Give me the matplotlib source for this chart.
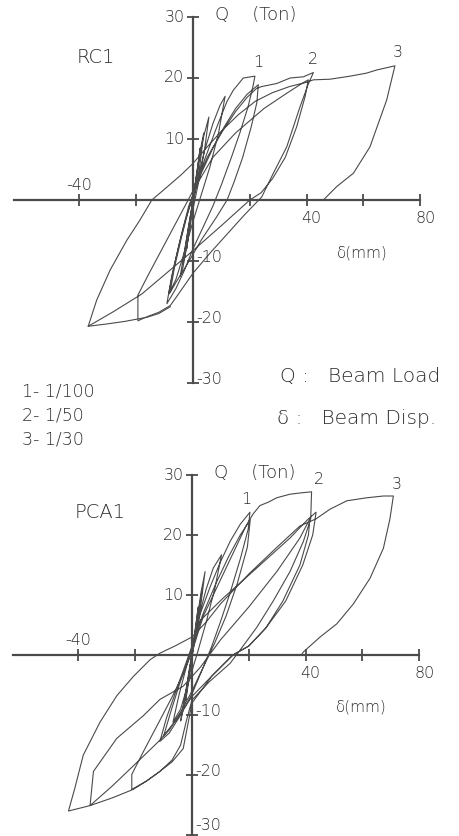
import numpy as np
import matplotlib.pyplot as plt

plt.rcParams['font.family'] = ['DejaVu Sans']

# --- RC1: beam displacement (mm) vs beam load (ton) ---
rc1_delta = [0, 1.5, 2.5, 1.5, 0, -1.2, -2.2, -1, 0,
             1.8, 3.5, 5.6, 4, 2, 0, -2, -3.5, -4.5, -2.5, -0.5,
             1.2, 2.5, 3.8, 2.5, 0.8, -1, -2.8, -3.6, -1.8, 0,
             1.5, 4, 7, 9.5, 11.3, 9, 6, 3, 0, -3, -6, -8.6, -6.5, -4, -1.5,
             1, 4, 8, 11.9, 14.2, 17.7, 21.8, 21.1, 19.4, 16.5, 13.6, 10, 7, 3, 0, -3, -6, -9.2,
             -7.5, -5, -2.5, 0, 3, 7, 11, 15, 19, 23,
             22.5, 20.5, 17.5, 14.5, 12, 8, 3, -2, -6, -8.1,
             -6.5, -4, -1.5, 1, 5, 10, 15, 19, 22.4,
             24.2, 29.5, 34.2, 38.9, 42.4, 40.6, 37.7, 33, 28.3, 24.2, 18, 12, 6, 0, -3, -6, -8,
             -12, -16, -19.4, -19.4,
             -16, -12, -8, -4, 0, 7, 15, 25, 33, 38.7, 40.6,
             39.5, 36.5, 32.5, 28, 24, 20, 10, -1, -8.1, -18, -28, -36.9,
             -33.9, -29.2, -23.3, -18.7, -14.5, -9.2, -4, 0, 5, 10, 16, 22, 28, 34, 40, 42.4,
             48.2, 55.3, 61.1, 64.6, 71.1,
             68.2, 62.3, 56.5, 50.6, 45.9]
rc1_load = [0, 5, 8.5, 4.5, 0.5, -4.5, -8, -3.5, 0,
            5.5, 10, 13.6, 8, 3, -1.5, -7, -11, -12.5, -7, -1.5,
            4, 8, 11, 6, 1.5, -3.5, -9, -10.5, -5, 0,
            3, 8, 12.5, 15.5, 17, 11, 5.5, 1, -3.5, -8.5, -13, -15.5, -10.5, -5.5, -1,
            2, 6.5, 11.5, 16.1, 18, 20, 20.3, 18.6, 15.3, 11, 7.1, 2.5, -1, -5, -8, -11.5, -14.5, -17,
            -12.5, -7.5, -3, 0.5, 4.5, 8.5, 12, 15, 17.3, 18.9,
            16, 12, 7, 3, 0, -3, -6.5, -10.5, -13.5, -15.2,
            -11, -6, -1.5, 2.5, 7, 11, 14.5, 16.8, 18.3,
            18.6, 19.1, 20, 20.2, 20.9, 19, 15.3, 8.7, 4.4, 0.5, -2.5, -5.6, -8.7, -12, -14, -16, -17.3,
            -18.4, -19.1, -19.8, -15.6,
            -12.5, -9, -5.5, -2, 1.5, 7, 11, 15, 17.5, 19.2, 19.7,
            17, 12, 7, 3.5, 1.2, 0, -4.2, -8.7, -11.5, -15.4, -18.3, -20.7,
            -16.4, -11.5, -6.6, -3.3, 0, 2.1, 4.2, 6, 8.7, 11.3, 14, 16.2, 17.6, 18.6, 19.3, 19.7,
            19.8, 20.3, 20.8, 21.3, 22.0,
            16.4, 8.7, 4.4, 2.2, 0]
# lower edge of the RC1 negative lobe
rc1_edge_delta = [-8, -12, -16, -19.4, -24, -30, -36.9]
rc1_edge_load = [-17.5, -18.6, -19.2, -19.5, -19.9, -20.3, -20.7]

# --- PCA1 ---
pca1_delta = [0, 1.2, 2.2, 1, 0, -1.2, -2.2, -1, 0,
              1.8, 3.2, 4.6, 3, 1, -1, -2.8, -4, -2, 0,
              1.2, 2.6, 3.6, 2.2, 0.5, -1.2, -2.6, -3.4, -1.5, 0,
              2.5, 5, 7.5, 10.4, 8, 5, 2, -1.5, -4, -6.7, -4.5, -2, 0.5,
              3, 6.5, 10, 13.5, 17, 20.4, 19.8, 17, 13.5, 10, 7, 4, 0, -4, -8, -11.3,
              -9, -6, -3, 0, 4, 8.5, 13, 17, 20.5, 19.5, 16, 12, 8, 4, 0, -4, -8, -10,
              -7.5, -4.5, -1.5, 1,
              4, 8, 12, 16, 19, 21.5, 23.9, 27, 29.8, 34.5, 38, 42.1,
              41.8, 39.2, 34.5, 28.6, 22.8, 16.9, 13.4, 6, 0, -2, -4, -7, -11.3, -16, -21.2,
              -21.2, -17, -12, -7, -3, 0, 2.8, 11, 22.8, 34.5, 41, 43.7,
              42.5, 39, 33, 26, 20, 14.4, 7, 0,
              -5, -11.3, -20.7, -28, -35.9, -34.7, -26.5, -17.1, -11.3, -3.1,
              3, 10, 20, 30, 38, 41.5,
              41, 38, 32, 26, 20, 14.4, 7, 0,
              -3.1, -7, -11.3, -16, -20.7, -28, -35.9, -43.5,
              -41.2, -38.3, -32.4, -26.5, -20.7, -14.8, -11.3, -6, 0, 5, 10, 20, 30, 38, 43.7,
              48.6, 54.5, 61.5, 67.4, 70.9,
              69.7, 67.4, 62.7, 56.8, 51, 45.1, 39.2, 38.5]
pca1_load = [0, 4.5, 8, 3.5, 0, -4.5, -7.5, -3, 0,
             6, 10.5, 13.9, 8, 2.5, -3.5, -8.5, -11, -5.5, 0.5,
             4, 8, 11, 6, 1.5, -3.5, -7.5, -9.5, -4.5, 0,
             6.5, 11, 14.5, 16.7, 11, 5.5, 0.5, -5, -9, -11.2, -6.5, -2, 2,
             7, 11.5, 15.5, 19, 21.8, 23.8, 21, 16, 10.5, 5.5, 1.5, -2, -6.5, -10, -13, -14.4,
             -10.5, -6.5, -2.5, 1.5, 7, 12, 16.5, 20, 22.5, 18, 12, 6.5, 2, -2, -6, -9.5, -12.5, -13.5,
             -9.5, -5, -1, 2,
             6.5, 10.5, 14.5, 18.5, 21.5, 23.5, 24.9, 25.5, 26.2, 26.8, 27, 27.2,
             22.7, 18.9, 13.9, 9, 4.6, 0.8, -1.4, -4.5, -7.5, -11, -15, -17.5, -19.4, -21, -22.4,
             -19.9, -16, -11.5, -7, -3, 0.5, 5.7, 9.5, 14.5, 19.5, 22.7, 23.8,
             20, 15, 9, 4.5, 1.5, 0, -3.5, -6.9,
             -10.5, -14.2, -18.5, -21.8, -25.1, -19.4, -13.9, -10.1, -7.4, -5.2,
             -2, 2.5, 8, 14, 19.5, 22.7,
             20, 15, 9, 4.5, 1.5, 0, -3.5, -8,
             -15.6, -17.8, -19.4, -21, -22.4, -23.8, -25.1, -26,
             -22.1, -16.7, -11.2, -6.8, -3.6, -0.8, 0.3, 1.5, 3, 5.5, 8.5, 13.5, 18, 21.5, 22.7,
             24.3, 25.7, 26.2, 26.5, 26.5,
             22.7, 17.8, 12.8, 8.5, 5.2, 3, 0.5, 0]

x_ticks = [-40, -20, 0, 20, 40, 60, 80]
y_ticks = [-30, -20, -10, 10, 20, 30]
y_labels_left = [30, 20, 10]
y_labels_right = [-10, -20, -30]
drift_labels = ['1- 1/100', '2- 1/50', '3- 1/30']

LINE = '#4a4a4a'
INK = '#2e2e2e'
W, H = 460, 836


def make_axes(fig, ox, oy, sx, sy, xlim, ylim):
    """axes placed so that the data origin lands on pixel (ox, oy)"""
    left = ox + xlim[0] * sx
    right = ox + xlim[1] * sx
    top = oy - ylim[1] * sy
    bottom = oy - ylim[0] * sy
    ax = fig.add_axes([left / W, 1 - bottom / H, (right - left) / W, (bottom - top) / H])
    ax.set_xlim(*xlim)
    ax.set_ylim(*ylim)
    return ax


def draw_panel(ax, segments, name, name_pos, peak_pos, neg30):
    for d, q in segments:
        ax.plot(d, q, color=LINE, lw=0.8)
    ax.patch.set_alpha(0)
    for s in ['top', 'right']:
        ax.spines[s].set_visible(False)
    ax.spines['left'].set_position('zero')
    ax.spines['bottom'].set_position('zero')
    ax.spines['left'].set_bounds(-30, 30)
    ax.spines['bottom'].set_bounds(-63, 80)
    for s in ['left', 'bottom']:
        ax.spines[s].set_color(LINE)
        ax.spines[s].set_linewidth(1.6)
    ax.set_xticks(x_ticks)
    ax.set_yticks(y_ticks)
    ax.tick_params(direction='inout', length=9, width=1.3, color=LINE,
                   labelleft=False, labelbottom=False)

    fs = 11.5
    kw = dict(fontsize=fs, color=INK, fontweight='light')
    for v in y_labels_left:
        ax.text(-3.0, v, str(v), ha='right', va='center', **kw)
    for v in y_labels_right:
        yv = neg30 if v == -30 else v + 0.6
        ax.text(1.3, yv, str(v), ha='left', va='center', clip_on=False, **kw)
    ax.text(-40, 2.4, '-40', ha='center', va='center', **kw)
    ax.text(41.5, -3.0, '40', ha='center', va='center', **kw)
    ax.text(82, -3.0, '80', ha='center', va='center', clip_on=False, **kw)
    ax.text(7.6, 30.3, 'Q    (Ton)', ha='left', va='center', fontsize=13, color=INK, fontweight='light')
    ax.text(50.5, -8.7, 'δ(mm)', ha='left', va='center', fontsize=11, color=INK, fontweight='light')
    ax.text(name_pos[0], name_pos[1], name, ha='left', va='center', fontsize=14, color=INK,
            fontweight='light')
    for i, (px, py) in enumerate(peak_pos):
        ax.text(px, py, str(i + 1), ha='center', va='center', **kw)


fig = plt.figure(figsize=(W / 100, H / 100), dpi=100)
fig.patch.set_facecolor('white')

ax1 = make_axes(fig, 193, 200, 2.84, 6.1, (-63, 80.5), (-30.5, 30.5))
draw_panel(ax1, [(rc1_delta, rc1_load), (rc1_edge_delta, rc1_edge_load)], 'RC1',
           (-41, 23.4), [(22.9, 22.6), (42.3, 23.0), (72.2, 24.1)], -29.5)

ax2 = make_axes(fig, 192, 655, 2.84, 6.0, (-63, 80.5), (-30.5, 30.5))
draw_panel(ax2, [(pca1_delta, pca1_load)], 'PCA1',
           (-41.5, 23.8), [(19.0, 26.0), (44.8, 29.2), (72.0, 28.4)], -28.4)

fig.text(280 / W, 1 - 377 / H, 'Q :   Beam Load', fontsize=14.5, color=INK, ha='left',
         va='center', fontweight='light')
fig.text(277 / W, 1 - 419 / H, 'δ :   Beam Disp.', fontsize=14.5, color=INK, ha='left',
         va='center', fontweight='light')
for i, lab in enumerate(drift_labels):
    fig.text(22 / W, 1 - (392 + 24 * i) / H, lab, fontsize=12.5, color=INK, ha='left',
             va='center', fontweight='light')

fig.savefig('out.png', dpi=100)
